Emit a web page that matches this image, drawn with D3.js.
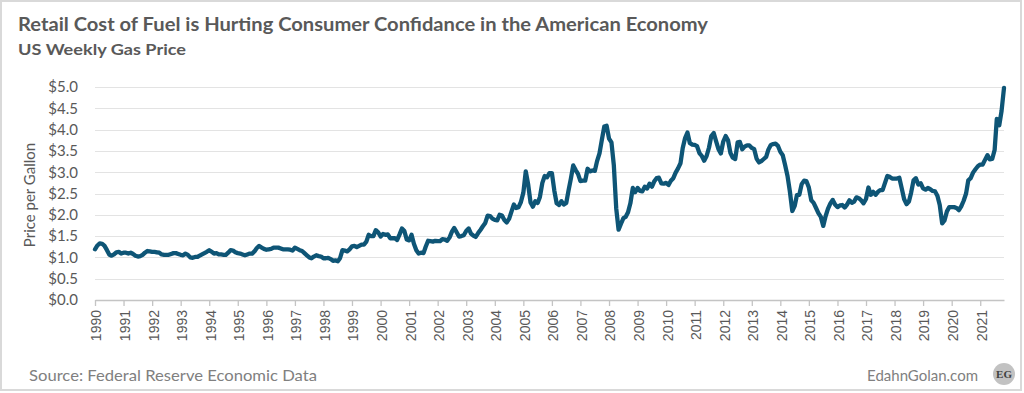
<!DOCTYPE html>
<html>
<head>
<meta charset="utf-8">
<script src="https://cdn.jsdelivr.net/npm/d3@7/dist/d3.min.js"></script>
<style>
  body { margin: 0; background: #fff; }
</style>
</head>
<body>
<div class="vis1"></div>
<script>
// Data: US regular gasoline, $ per gallon, one value per month
// series starts August 1990
const firstMonth = new Date(1990, 7, 20);

const prices1990s = [
  1.19, 1.28, 1.33, 1.32, 1.27,
  1.17, 1.06, 1.04, 1.07, 1.12, 1.13, 1.09, 1.11, 1.11, 1.09, 1.11, 1.08,
  1.04, 1.02, 1.03, 1.06, 1.11, 1.15, 1.14, 1.13, 1.13, 1.12, 1.11, 1.07,
  1.06, 1.06, 1.06, 1.08, 1.10, 1.10, 1.08, 1.06, 1.05, 1.09, 1.06, 1.00,
  0.99, 1.01, 1.01, 1.04, 1.07, 1.10, 1.13, 1.17, 1.13, 1.09, 1.10, 1.07,
  1.07, 1.06, 1.06, 1.11, 1.17, 1.16, 1.12, 1.10, 1.09, 1.07, 1.05, 1.07,
  1.09, 1.09, 1.14, 1.22, 1.27, 1.23, 1.20, 1.18, 1.19, 1.20, 1.23, 1.23,
  1.23, 1.21, 1.19, 1.19, 1.19, 1.18, 1.16, 1.23, 1.20, 1.17, 1.15, 1.10,
  1.05, 1.00, 0.98, 1.02, 1.05, 1.03, 1.02, 0.98, 0.98, 0.99, 0.96, 0.92,
  0.93, 0.91, 0.98, 1.17, 1.16, 1.14, 1.19, 1.26, 1.27, 1.24, 1.27, 1.30
];

const prices2000s = [
  1.30, 1.37, 1.53, 1.50, 1.50, 1.64, 1.59, 1.49, 1.55, 1.53, 1.54, 1.45,
  1.45, 1.45, 1.41, 1.54, 1.68, 1.62, 1.42, 1.40, 1.53, 1.32, 1.17, 1.09,
  1.11, 1.10, 1.25, 1.39, 1.38, 1.37, 1.39, 1.38, 1.38, 1.43, 1.42, 1.39,
  1.47, 1.61, 1.69, 1.59, 1.49, 1.50, 1.52, 1.62, 1.68, 1.56, 1.51, 1.48,
  1.57, 1.65, 1.73, 1.81, 1.98, 1.97, 1.91, 1.88, 1.87, 2.00, 1.98, 1.88,
  1.82, 1.91, 2.07, 2.24, 2.16, 2.18, 2.30, 2.52, 3.02, 2.72, 2.29, 2.19,
  2.32, 2.28, 2.42, 2.75, 2.91, 2.88, 2.98, 2.98, 2.57, 2.27, 2.23, 2.32,
  2.24, 2.28, 2.56, 2.85, 3.16, 3.05, 2.96, 2.79, 2.80, 2.80, 3.08, 3.02,
  3.04, 3.03, 3.26, 3.44, 3.76, 4.07, 4.09, 3.79, 3.70, 3.17, 2.15, 1.65,
  1.79, 1.92, 1.95, 2.06, 2.27, 2.63, 2.53, 2.63, 2.56, 2.55, 2.66, 2.62
];

const prices2010s = [
  2.73, 2.66, 2.78, 2.86, 2.87, 2.74, 2.73, 2.75, 2.70, 2.80, 2.86, 2.99,
  3.09, 3.21, 3.56, 3.80, 3.93, 3.68, 3.65, 3.64, 3.61, 3.45, 3.38, 3.27,
  3.38, 3.58, 3.85, 3.92, 3.73, 3.54, 3.44, 3.72, 3.85, 3.75, 3.45, 3.34,
  3.31, 3.70, 3.71, 3.54, 3.60, 3.63, 3.63, 3.57, 3.54, 3.32, 3.23, 3.26,
  3.31, 3.36, 3.53, 3.64, 3.66, 3.67, 3.62, 3.48, 3.40, 3.17, 2.91, 2.55,
  2.09, 2.21, 2.46, 2.47, 2.72, 2.80, 2.79, 2.64, 2.34, 2.28, 2.16, 2.04,
  1.95, 1.74, 1.96, 2.14, 2.26, 2.35, 2.24, 2.18, 2.22, 2.23, 2.17, 2.24,
  2.34, 2.28, 2.31, 2.41, 2.39, 2.34, 2.27, 2.37, 2.64, 2.47, 2.54, 2.47,
  2.54, 2.58, 2.58, 2.75, 2.91, 2.89, 2.85, 2.85, 2.85, 2.87, 2.62, 2.37,
  2.25, 2.31, 2.52, 2.81, 2.86, 2.71, 2.74, 2.62, 2.59, 2.63, 2.60, 2.56
];

const prices2020s = [
  2.55, 2.44, 2.23, 1.80, 1.87, 2.08, 2.18, 2.18, 2.18, 2.16, 2.11, 2.20,
  2.33, 2.50, 2.81, 2.86, 2.99, 3.07, 3.14, 3.18, 3.18, 3.29, 3.40, 3.30,
  3.31, 3.52, 4.25, 4.10, 4.44, 4.98
];

// akse labels
const tickYears = d3.range(1990, 2022);
const yTicks = [0, 0.5, 1, 1.5, 2, 2.5, 3, 3.5, 4, 4.5, 5];

const allPrices = prices1990s.concat(prices2000s, prices2010s, prices2020s);
const data = allPrices.map((p, i) => ({
  date: new Date(1990, 7 + i, 20),
  price: p
}));

const W = 1024, H = 393;
const margin = { top: 87, right: 20, bottom: 93, left: 95 };
const width = 1004 - margin.left;
const height = 300 - margin.top;

const svg = d3
  .select(".vis1")
  .append("svg")
  .attr("width", W)
  .attr("height", H)
  .style("font-family", "Lato, 'Open Sans', sans-serif");

// ramme rundt om billedet
svg.append("rect")
  .attr("x", 1).attr("y", 1)
  .attr("width", 1020).attr("height", 389)
  .attr("fill", "#fff")
  .attr("stroke", "#d9d9d9")
  .attr("stroke-width", 2);

const g = svg.append("g")
  .attr("transform", "translate(" + margin.left + "," + margin.top + ")");

// Skalaer
const xScale = d3.scaleTime()
  .domain([firstMonth, data[data.length - 1].date])
  .range([0, width]);
const yScale = d3.scaleLinear().domain([0, 5]).range([height, 0]);

// gridlines
g.selectAll(".grid")
  .data(yTicks.slice(1))
  .enter()
  .append("line")
  .attr("x1", 0)
  .attr("x2", width)
  .attr("y1", d => Math.round(yScale(d)) + 0.5)
  .attr("y2", d => Math.round(yScale(d)) + 0.5)
  .attr("stroke", "#e3e3e3")
  .attr("stroke-width", 1.2);

// y-akse labels
const yAxis = g.append("g")
  .call(d3.axisLeft(yScale).tickValues(yTicks).tickSize(0).tickPadding(17)
    .tickFormat(d => "$" + d3.format(".1f")(d)));
yAxis.select(".domain").remove();
yAxis.selectAll("text")
  .style("font-family", "Lato, sans-serif")
  .style("font-size", "15px")
  .attr("fill", "#595959");

// x-akse, et tick hvert år (august)
const xTickDates = tickYears.map(y => new Date(y, 7, 20));
const xAxis = g.append("g")
  .attr("transform", "translate(0," + height + ")")
  .call(d3.axisBottom(xScale).tickValues(xTickDates).tickSize(6).tickSizeOuter(0)
    .tickFormat(d3.timeFormat("%Y")));
xAxis.select(".domain").attr("stroke", "#c4c4c4").attr("stroke-width", 1.3);
xAxis.selectAll(".tick line").attr("stroke", "#c4c4c4").attr("stroke-width", 1.3);
xAxis.selectAll("text")
  .attr("transform", "rotate(-90)")
  .attr("x", -10)
  .attr("y", 1)
  .attr("dy", "0.35em")
  .style("text-anchor", "end")
  .style("font-family", "'Liberation Sans', Arial, sans-serif")
  .style("font-size", "14px")
  .attr("fill", "#595959");

// Linjen
const line = d3.line()
  .x(d => xScale(d.date))
  .y(d => yScale(d.price));

g.append("path")
  .datum(data)
  .attr("fill", "none")
  .attr("stroke", "#0e5576")
  .attr("stroke-width", 4.3)
  .attr("stroke-linejoin", "round")
  .attr("stroke-linecap", "round")
  .attr("d", line);

// Label til y-aksen
svg.append("text")
  .attr("transform", "translate(35,195) rotate(-90)")
  .style("text-anchor", "middle")
  .style("font-size", "15px")
  .attr("fill", "#595959")
  .text("Price per Gallon");

// Titler
svg.append("text")
  .attr("x", 18).attr("y", 31)
  .style("font-size", "19px")
  .style("font-weight", "bold")
  .attr("fill", "#595959")
  .attr("textLength", 690)
  .attr("lengthAdjust", "spacingAndGlyphs")
  .text("Retail Cost of Fuel is Hurting Consumer Confidance in the American Economy");

svg.append("text")
  .attr("x", 18).attr("y", 55)
  .style("font-size", "16px")
  .style("font-weight", "bold")
  .attr("fill", "#595959")
  .attr("textLength", 168)
  .attr("lengthAdjust", "spacingAndGlyphs")
  .text("US Weekly Gas Price");

// kilde og logo i bunden
svg.append("text")
  .attr("x", 29).attr("y", 381)
  .style("font-size", "15px")
  .attr("fill", "#808080")
  .attr("textLength", 288)
  .attr("lengthAdjust", "spacingAndGlyphs")
  .text("Source: Federal Reserve Economic Data");

svg.append("text")
  .attr("x", 978).attr("y", 381)
  .style("text-anchor", "end")
  .style("font-size", "15px")
  .attr("fill", "#808080")
  .text("EdahnGolan.com");

svg.append("circle")
  .attr("cx", 1004).attr("cy", 374)
  .attr("r", 11)
  .attr("fill", "#c2c2c2");

svg.append("text")
  .attr("x", 1004).attr("y", 378)
  .style("text-anchor", "middle")
  .style("font-family", "'Liberation Serif', serif")
  .style("font-weight", "bold")
  .style("font-size", "11px")
  .attr("fill", "#404040")
  .text("EG");
</script>
</body>
</html>
